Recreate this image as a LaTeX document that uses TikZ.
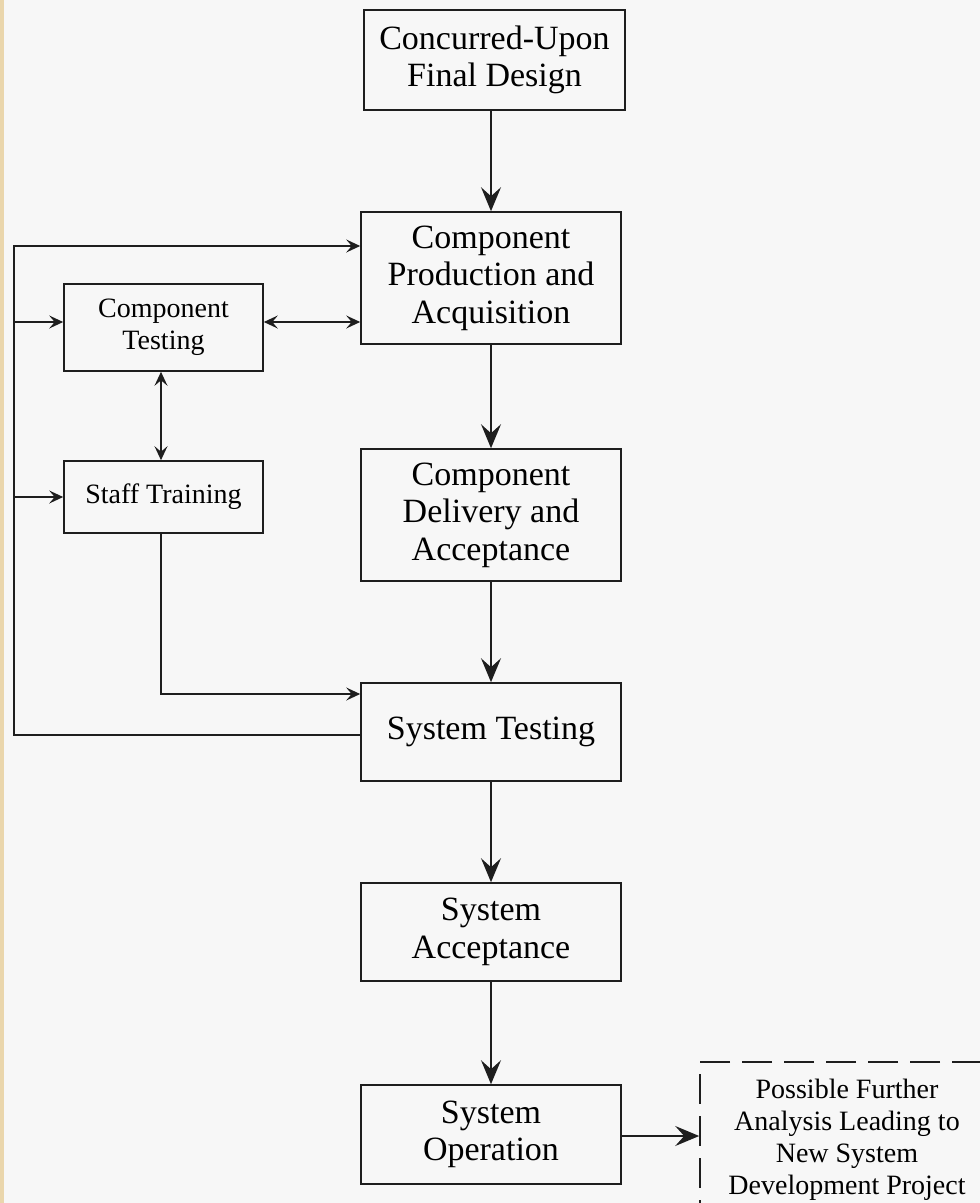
\documentclass[tikz,border=0pt]{standalone}
\usepackage{fontspec}
\setmainfont{Liberation Serif}
\usetikzlibrary{arrows.meta,calc}
\definecolor{bg}{HTML}{F7F7F7}
\definecolor{tan}{HTML}{EAD6AC}
\definecolor{ink}{HTML}{1E1E1E}
\tikzset{
  box/.style={draw=ink,line width=1.6pt,rectangle,inner sep=0pt,align=center,
    font=\fontsize{34}{37.5}\selectfont,text=black},
  sbox/.style={box,font=\fontsize{28}{32}\selectfont},
  bigtip/.tip={Stealth[length=24pt,width=20pt,inset=9pt]},
  smalltip/.tip={Stealth[length=14pt,width=13pt,inset=5.5pt]},
  bigarrow/.style={draw=ink,line width=1.6pt,-bigtip},
  smallarrow/.style={draw=ink,line width=1.6pt,-smalltip},
  smallboth/.style={draw=ink,line width=1.6pt,smalltip-smalltip},
  plainline/.style={draw=ink,line width=1.6pt}
}
\begin{document}
\begin{tikzpicture}[x=1pt,y=-1pt]
\fill[bg] (0,0) rectangle (980,1203);
\useasboundingbox (0,0) rectangle (980,1203);
\clip (0,0) rectangle (980,1203);
\fill[tan] (0,0) rectangle (4,1203);

\node[box,minimum width=261pt,minimum height=100pt] (concur) at (494.5,60) {Concurred-Upon\\Final Design};
\node[box,minimum width=260pt,minimum height=132pt] (prod) at (491,278) {Component\\Production and\\Acquisition};
\node[sbox,minimum width=199pt,minimum height=87pt] (ctest) at (163.5,327.5) {Component\\Testing};
\node[sbox,minimum width=199pt,minimum height=72pt] (staff) at (163.5,497) {Staff Training};
\node[box,minimum width=260pt,minimum height=132pt] (deliv) at (491,515) {Component\\Delivery and\\Acceptance};
\node[box,minimum width=260pt,minimum height=98pt] (systest) at (491,732) {System Testing};
\node[box,minimum width=260pt,minimum height=98pt] (sysacc) at (491,932) {System\\Acceptance};
\node[box,minimum width=260pt,minimum height=99pt] (sysop) at (491,1134.5) {System\\Operation};
\node[sbox,dash pattern=on 30pt off 12pt,minimum width=294pt,minimum height=156pt] (further) at (847,1140) {Possible Further\\Analysis Leading to\\New System\\Development Project};

\coordinate (lt) at (14,246);

% main chain
\draw[bigarrow] (prod.north |- concur.south) -- (prod.north);
\draw[bigarrow] (prod.south) -- (deliv.north);
\draw[bigarrow] (deliv.south) -- (systest.north);
\draw[bigarrow] (systest.south) -- (sysacc.north);
\draw[bigarrow] (sysacc.south) -- (sysop.north);
\draw[bigarrow] ([yshift=-1.5pt]sysop.east) -- ([yshift=-1.5pt]sysop.east -| further.west);

% left loop
\draw[smallarrow] ([yshift=-3pt]systest.west) -| (lt) -- (lt -| prod.west);
\draw[smallarrow] ([yshift=5.5pt]ctest.west -| lt) -- ([yshift=5.5pt]ctest.west);
\draw[smallarrow] (staff.west -| lt) -- (staff.west);
\draw[smallboth] ([yshift=5.5pt]ctest.east) -- ([yshift=5.5pt]ctest.east -| prod.west);
\draw[smallboth] ([xshift=-2.5pt]ctest.south) -- ([xshift=-2.5pt]staff.north);
\draw[smallarrow] ([xshift=-2.5pt]staff.south) |- ([yshift=38pt]systest.west);
\end{tikzpicture}
\end{document}
